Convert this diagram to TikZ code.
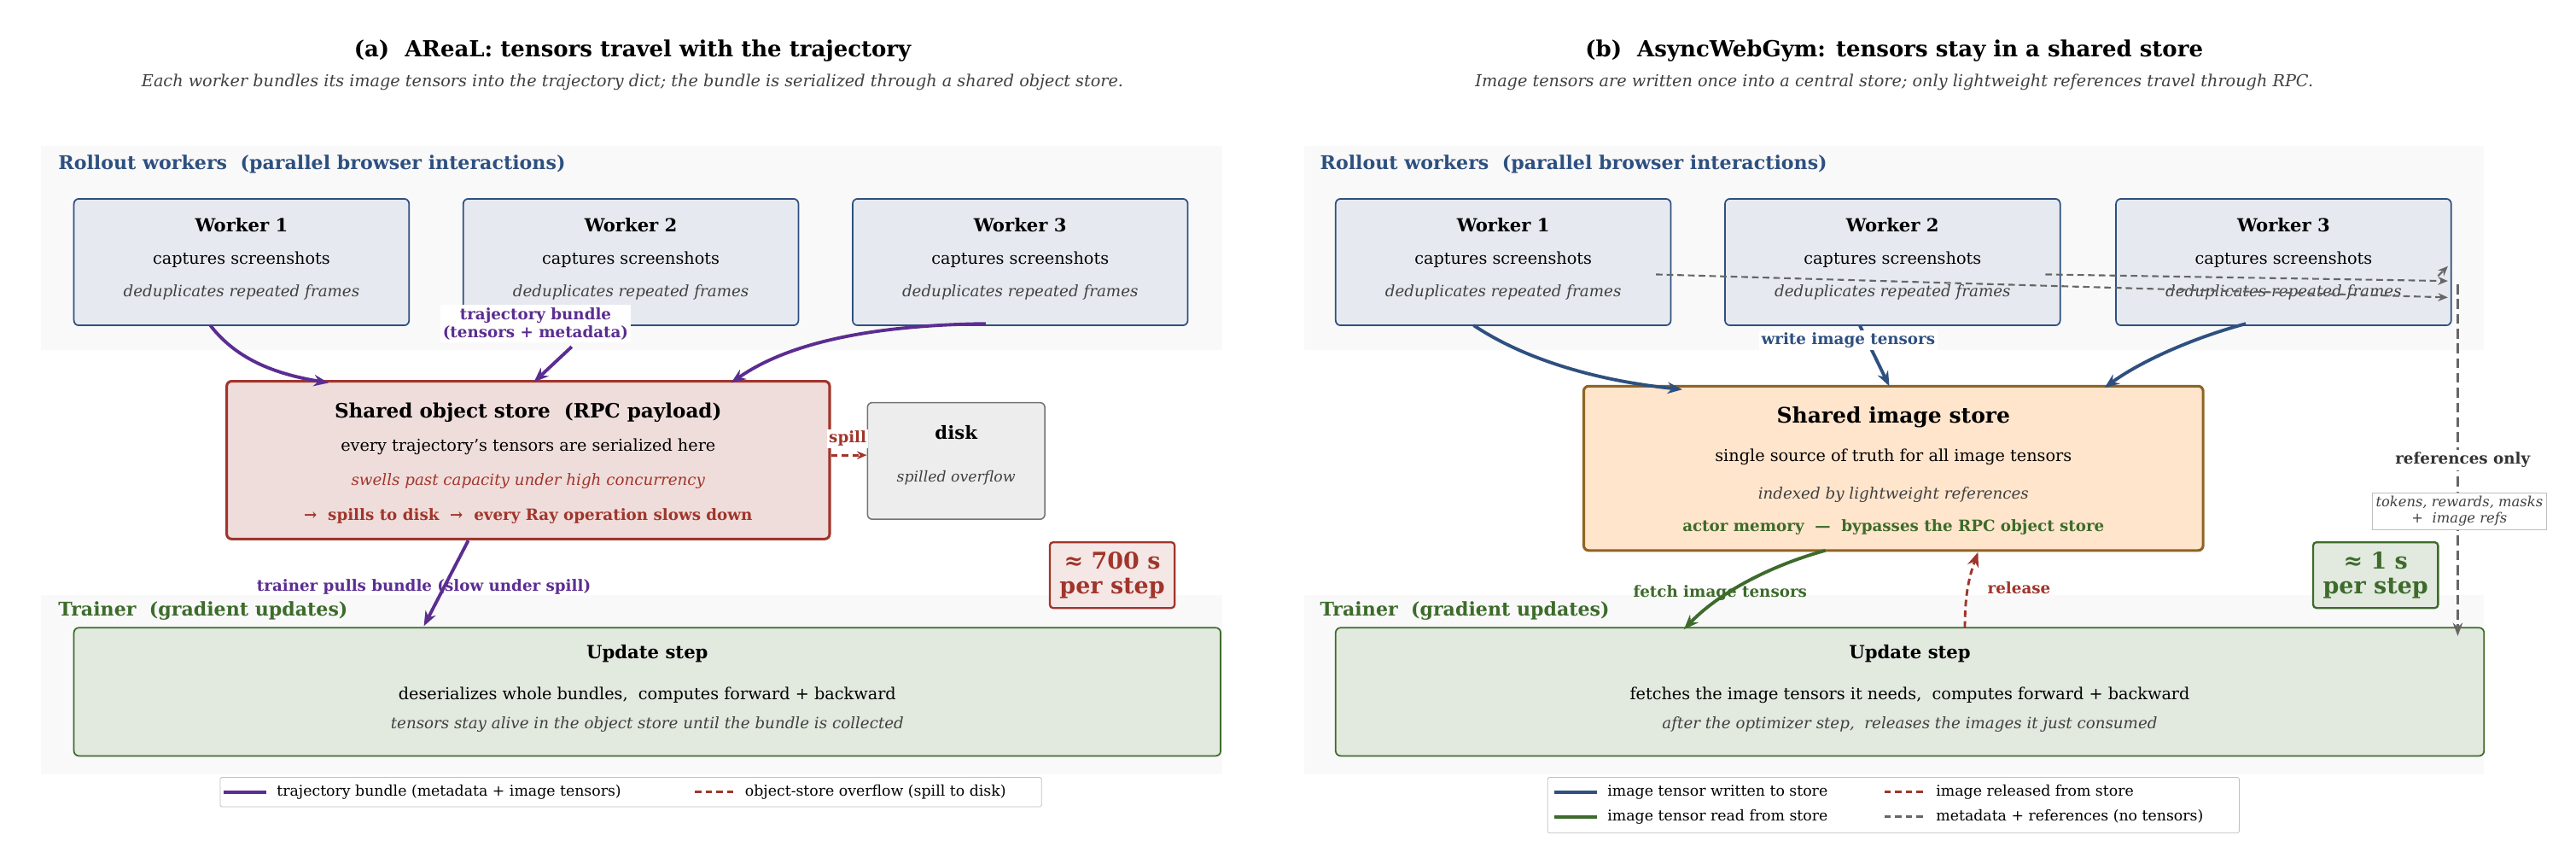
\documentclass[tikz,border=0pt]{standalone}
\usepackage{fontspec}
\setmainfont{DejaVu Serif}
\usetikzlibrary{arrows.meta}
\definecolor{cblue}{HTML}{2E5080}
\definecolor{cpurple}{HTML}{5B2D91}
\definecolor{cred}{HTML}{A0352B}
\definecolor{cgreen}{HTML}{3D6B2B}
\definecolor{corange}{HTML}{8F6423}
\definecolor{cgray}{HTML}{666666}
\tikzset{
 band/.style={fill=black!2.5,draw=none},
 wbox/.style={draw=cblue,fill=cblue!12,line width=0.9pt,rounded corners=3pt},
 ttl/.style={font=\bfseries\fontsize{13.5}{16}\selectfont},
 sub/.style={font=\itshape\fontsize{10}{12}\selectfont,text=black!75},
 bandlbl/.style={anchor=west,font=\bfseries\fontsize{11.5}{14}\selectfont},
 bt/.style={font=\bfseries\fontsize{11}{13}\selectfont},
 nt/.style={font=\fontsize{10}{12}\selectfont},
 it/.style={font=\itshape\fontsize{9.5}{12}\selectfont,text=black!75},
 lbl/.style={font=\bfseries\fontsize{9.5}{11}\selectfont,fill=white,inner sep=1.5pt,align=center},
 arr/.style={line width=2pt,-{Stealth[length=9pt,width=7pt]}},
 darr/.style={line width=1.1pt,dash pattern=on 4pt off 2.5pt,-{Stealth[length=6pt,width=5pt]}},
 lg/.style={font=\fontsize{9}{11}\selectfont,anchor=west},
}
\begin{document}
\begin{tikzpicture}[x=1pt,y=-1pt]
\useasboundingbox (0,0) rectangle (1568,522);
\fill[white] (0,0) rectangle (1568,522);
% ===== LEFT PANEL =====
\node[ttl] (ta) at (385,31) {(a)\ \ AReaL: tensors travel with the trajectory};
\node[sub] (sa) at (385,50) {Each worker bundles its image tensors into the trajectory dict; the bundle is serialized through a shared object store.};
\fill[band] (25,89) rectangle (744,213);
\node[bandlbl,text=cblue] (ra) at (32,100) {Rollout workers\ \ (parallel browser interactions)};
\foreach \n/\x in {1/45,2/282,3/519}{
 \draw[wbox] (\x,121) rectangle (\x+204,198);
 \node[bt] at (\x+102,137) {Worker \n};
 \node[nt] at (\x+102,158) {captures screenshots};
 \node[it] at (\x+102,178) {deduplicates repeated frames};
}
\coordinate (aw1) at (128,198); \coordinate (aw2) at (348,211); \coordinate (aw3) at (600,197);
\fill[band] (25,362) rectangle (744,471);
\node[bandlbl,text=cgreen] (tra) at (32,372) {Trainer\ \ (gradient updates)};
\node[draw=cred,fill=cred!17,line width=1.6pt,rounded corners=3pt,minimum width=367pt,minimum height=96pt] (store) at (321.5,280) {};
\node[font=\bfseries\fontsize{12}{14}\selectfont] at (321.5,251) {Shared object store\ \ (RPC payload)};
\node[nt] at (321.5,272) {every trajectory's tensors are serialized here};
\node[it,text=cred] at (321.5,293) {swells past capacity under high concurrency};
\node[font=\bfseries\fontsize{9.5}{12}\selectfont,text=cred] at (321.5,314) {→\ \ spills to disk\ \ →\ \ every Ray operation slows down};
\node[draw=black!55,fill=black!7,line width=0.8pt,rounded corners=3pt,minimum width=108pt,minimum height=71pt] (disk) at (582,280.5) {};
\node[bt] at (582,263) {disk};
\node[it,font=\itshape\fontsize{9}{11}\selectfont] at (582,291) {spilled overflow};
\draw[darr,cred,line width=1.5pt] (store.east|-0,277) -- (disk.west|-0,277);
\node[lbl,text=cred,inner sep=1pt] at (516,267) {spill};
\node[draw=cred,fill=cred!12,line width=1.2pt,rounded corners=2pt,align=center,text=cred,font=\bfseries\fontsize{14}{15}\selectfont,inner sep=2pt,minimum width=76pt,minimum height=40pt] (t700) at (677,350) {≈ 700 s\\per step};
\node[draw=cgreen,fill=cgreen!15,line width=0.9pt,rounded corners=3pt,minimum width=698pt,minimum height=78pt] (upa) at (394,421) {};
\node[bt] at (394,398) {Update step};
\node[nt] at (394,423) {deserializes whole bundles,\ \ computes forward + backward};
\node[it] at (394,441) {tensors stay alive in the object store until the bundle is collected};
\draw[arr,cpurple] (aw1) .. controls (145,220) and (170,228) .. (200,233);
\draw[arr,cpurple] (aw2) -- (325,232.5);
\draw[arr,cpurple] (aw3) .. controls (520,198) and (475,212) .. (445,233);
\node[lbl,text=cpurple] (lb1) at (326,197) {trajectory bundle\\(tensors + metadata)};
\draw[arr,cpurple] (285,329) -- (258,381);
\node[lbl,text=cpurple,fill=none] at (258,357) {trainer pulls bundle (slow under spill)};
\node[draw=black!25,fill=white,minimum width=500pt,minimum height=18pt,rounded corners=1pt] (lga) at (384,482) {};
\draw[cpurple,line width=2pt] (136,482) -- (162,482);
\node[lg] at (165,482) {trajectory bundle (metadata + image tensors)};
\draw[cred,line width=1.3pt,dash pattern=on 4pt off 2.5pt] (423,482) -- (447,482);
\node[lg] at (450,482) {object-store overflow (spill to disk)};
% ===== RIGHT PANEL =====
\node[ttl] (tb) at (1153,31) {(b)\ \ AsyncWebGym: tensors stay in a shared store};
\node[sub] (sb) at (1153,50) {Image tensors are written once into a central store; only lightweight references travel through RPC.};
\fill[band] (794,89) rectangle (1512,213);
\node[bandlbl,text=cblue] (rb) at (800,100) {Rollout workers\ \ (parallel browser interactions)};
\foreach \n/\x in {1/813,2/1050,3/1288}{
 \draw[wbox] (\x,121) rectangle (\x+204,198);
 \node[bt] at (\x+102,137) {Worker \n};
 \node[nt] at (\x+102,158) {captures screenshots};
 \node[it] at (\x+102,178) {deduplicates repeated frames};
}
\fill[band] (794,362) rectangle (1512,471);
\node[bandlbl,text=cgreen] (trb) at (800,372) {Trainer\ \ (gradient updates)};
\node[draw=corange,fill=orange!20,line width=1.6pt,rounded corners=3pt,minimum width=377pt,minimum height=100pt] (istore) at (1152.5,285) {};
\node[font=\bfseries\fontsize{13}{15}\selectfont] at (1152.5,254) {Shared image store};
\node[nt] at (1152.5,278) {single source of truth for all image tensors};
\node[it] at (1152.5,301) {indexed by lightweight references};
\node[font=\bfseries\fontsize{9.5}{12}\selectfont,text=cgreen] at (1152.5,321) {actor memory\ \ —\ \ bypasses the RPC object store};
\node[draw=cgreen,fill=cgreen!15,line width=0.9pt,rounded corners=3pt,minimum width=699pt,minimum height=78pt] (upb) at (1162.5,421) {};
\node[bt] at (1162.5,398) {Update step};
\node[nt] at (1162.5,423) {fetches the image tensors it needs,\ \ computes forward + backward};
\node[it] at (1162.5,441) {after the optimizer step,\ \ releases the images it just consumed};
\node[draw=cgreen,fill=cgreen!15,line width=1.2pt,rounded corners=2pt,align=center,text=cgreen,font=\bfseries\fontsize{14}{15}\selectfont,inner sep=2pt,minimum width=76pt,minimum height=40pt] (t1) at (1446,350) {≈ 1 s\\per step};
% gray dashed references
\coordinate (g1) at (1008,167); \coordinate (g2) at (1245,167); \coordinate (g3) at (1484,168);
\coordinate (ge1) at (1490,181); \coordinate (ge2) at (1490,171); \coordinate (ge3) at (1490,162);
\draw[darr,cgray] (g1) -- (ge1);
\draw[darr,cgray] (g2) -- (ge2);
\draw[darr,cgray] (g3) -- (ge3);
\coordinate (vt) at (1496,173); \coordinate (vb) at (1496,387);
\draw[cgray,line width=1.3pt,dash pattern=on 6pt off 3pt,-{Stealth[length=8pt,width=6pt]}] (vt) -- (vb);
\node[font=\bfseries\fontsize{9.5}{11}\selectfont,text=black!80,fill=white,inner sep=1.5pt] (ro) at (1499,280) {references only};
\node[draw=black!25,fill=white,align=center,font=\itshape\fontsize{8.5}{10}\selectfont,text=black!75,inner sep=2pt] (tok) at (1497,311) {tokens, rewards, masks\\+\ \ image refs};
% blue writes
\draw[arr,cblue] (897,198) .. controls (930,220) and (975,232) .. (1024,237);
\draw[arr,cblue] (1132,198) -- (1150,235);
\draw[arr,cblue] (1367,197) .. controls (1330,207) and (1300,222) .. (1281,236);
\node[lbl,text=cblue] at (1125,207) {write image tensors};
% fetch / release
\draw[arr,cgreen] (1111,335) .. controls (1075,345) and (1045,362) .. (1025,383);
\node[lbl,text=cgreen,fill=none] at (1047,361) {fetch image tensors};
\draw[darr,cred,line width=1.5pt,-{Stealth[length=9pt,width=7pt]}] (1196,382) .. controls (1196,360) and (1199,350) .. (1204,336);
\node[lbl,text=cred,fill=none] at (1229,358) {release};
% legend right
\node[draw=black!25,fill=white,minimum width=421pt,minimum height=34pt,rounded corners=1pt] (lgb) at (1152.5,490) {};
\draw[cblue,line width=2pt] (946,482) -- (972,482);
\node[lg] at (975,482) {image tensor written to store};
\draw[cgreen,line width=2pt] (946,497) -- (972,497);
\node[lg] at (975,497) {image tensor read from store};
\draw[cred,line width=1.3pt,dash pattern=on 4pt off 2.5pt] (1147,482) -- (1172,482);
\node[lg] at (1175,482) {image released from store};
\draw[cgray,line width=1.3pt,dash pattern=on 4pt off 2.5pt] (1147,497) -- (1172,497);
\node[lg] at (1175,497) {metadata + references (no tensors)};
\end{tikzpicture}
\end{document}
